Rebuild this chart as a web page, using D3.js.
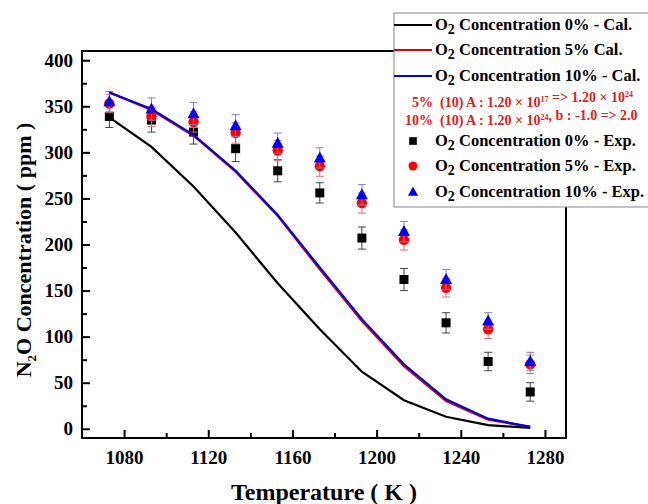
<!DOCTYPE html>
<html>
<head>
<meta charset="utf-8">
<script src="https://cdn.jsdelivr.net/npm/d3@7"></script>
<style>
  body { margin: 0; background: #fff; }
</style>
</head>
<body>
<script>
const w = 648;
const h = 504;
const FONT = "Liberation Serif";

// data
const temps = [1073, 1093, 1113, 1133, 1153, 1173, 1193, 1213, 1233, 1253, 1273];
const cal0 = [338, 306, 263, 213, 158, 108, 62, 31, 13, 4, 1];
const cal5 = [365, 346, 318, 279, 231, 173, 117, 68, 30, 10, 2];
const cal10 = [365, 347, 319, 280, 232, 175, 119, 70, 32, 11, 2];
const exp0 = [339, 335, 322, 304, 280, 256, 207, 162, 115, 73, 40];
const exp5 = [353, 339, 333, 321, 302, 285, 245, 205, 153, 108, 70];
const exp10 = [355, 347, 342, 329, 310, 294, 254, 214, 162, 117, 73];
const err0 = [12, 13, 13, 14, 12, 11, 12, 12, 11, 10, 10];
const err5 = [10, 11, 11, 11, 11, 11, 11, 11, 10, 10, 10];
const err10 = [11, 12, 12, 12, 11, 11, 11, 11, 11, 9, 10];
const xTicks = [1080, 1120, 1160, 1200, 1240, 1280];
const xMinor = [1100, 1140, 1180, 1220, 1260];
const yTicks = [0, 50, 100, 150, 200, 250, 300, 350, 400];
const yMinor = [25, 75, 125, 175, 225, 275, 325, 375];

const svg = d3.select("body").append("svg").attr("width", w).attr("height", h)
  .attr("font-family", FONT).attr("font-weight", "bold");

const x = d3.scaleLinear().domain([1060, 1290]).range([82, 566]);
const y = d3.scaleLinear().domain([-10, 410]).range([438, 51]);

// axes (ticks point inwards)
const xAxis = svg.append("g").attr("transform", "translate(0,438)")
  .call(d3.axisBottom(x).tickValues(xTicks).tickSize(-8).tickPadding(13).tickFormat(d3.format("d")));
const xAxisMinor = svg.append("g").attr("transform", "translate(0,438)")
  .call(d3.axisBottom(x).tickValues(xMinor).tickSize(-5).tickFormat(""));
const yAxis = svg.append("g").attr("transform", "translate(82,0)")
  .call(d3.axisLeft(y).tickValues(yTicks).tickSize(-8).tickPadding(9));
const yAxisMinor = svg.append("g").attr("transform", "translate(82,0)")
  .call(d3.axisLeft(y).tickValues(yMinor).tickSize(-5).tickFormat(""));

[xAxis, xAxisMinor, yAxis, yAxisMinor].forEach(g => {
  g.attr("font-family", FONT).attr("font-size", 19);
  g.select(".domain").remove();
  g.selectAll("line").attr("stroke", "#000").attr("stroke-width", 2);
  g.selectAll("text").attr("fill", "#000").attr("font-weight", "bold");
});

// frame
svg.append("rect").attr("x", 82).attr("y", 51).attr("width", 484).attr("height", 387)
  .attr("fill", "none").attr("stroke", "#000").attr("stroke-width", 2);

// experimental points with error bars
const expSeries = [
  { vals: exp0, err: err0, color: "#000", bar: "#444", shape: "square" },
  { vals: exp5, err: err5, color: "#f00", bar: "#e07070", shape: "circle" },
  { vals: exp10, err: err10, color: "#00f", bar: "#8080c8", shape: "triangle" }
];

function marker(sel, shape, color) {
  if (shape === "square") {
    sel.append("rect").attr("x", -4.5).attr("y", -4.5).attr("width", 9).attr("height", 9).attr("fill", color);
  } else if (shape === "circle") {
    sel.append("circle").attr("r", 5.2).attr("fill", color);
  } else {
    sel.append("path").attr("d", "M0,-6.5L6,4.5L-6,4.5Z").attr("fill", color);
  }
}

expSeries.forEach(s => {
  const g = svg.append("g");
  temps.forEach((t, i) => {
    const cx = x(t);
    const top = y(s.vals[i] + s.err[i]);
    const bot = y(s.vals[i] - s.err[i]);
    g.append("path")
      .attr("d", `M${cx},${top}V${bot}M${cx - 4},${top}H${cx + 4}M${cx - 4},${bot}H${cx + 4}`)
      .attr("stroke", s.bar).attr("stroke-width", 1).attr("fill", "none");
  });
  temps.forEach((t, i) => {
    const m = g.append("g").attr("transform", `translate(${x(temps[i])},${y(s.vals[i])})`);
    marker(m, s.shape, s.color);
  });
});

// calculated curves
const line = d3.line().x((d, i) => x(temps[i])).y(d => y(d));
[[cal0, "#000"], [cal5, "#e00000"], [cal10, "#0000e0"]].forEach(([vals, c]) => {
  svg.append("path").datum(vals).attr("d", line)
    .attr("fill", "none").attr("stroke", c).attr("stroke-width", 2.2);
});

// axis titles
const yt = svg.append("text").attr("transform", "translate(31,250) rotate(-90)")
  .attr("text-anchor", "middle").attr("font-size", 22);
yt.append("tspan").text("N");
yt.append("tspan").attr("dy", 5).attr("font-size", 13).text("2");
yt.append("tspan").attr("dy", -5).text("O Concentration ( ppm )");

svg.append("text").attr("x", 324).attr("y", 500).attr("text-anchor", "middle")
  .attr("font-size", 24).text("Temperature ( K )");

// legend
const lg = svg.append("g");
lg.append("rect").attr("x", 394).attr("y", 13).attr("width", 270).attr("height", 194)
  .attr("fill", "#fff").attr("stroke", "#888").attr("stroke-width", 1);

function o2Label(yy, rest) {
  const t = lg.append("text").attr("x", 435).attr("y", yy).attr("font-size", 16.5);
  t.append("tspan").text("O");
  t.append("tspan").attr("dy", 4).attr("font-size", 14).text("2");
  t.append("tspan").attr("dy", -4).text(" " + rest);
}

const calRows = [
  ["#000", "Concentration 0% - Cal.", 30],
  ["#e00000", "Concentration 5% Cal.", 55],
  ["#0000e0", "Concentration 10% - Cal.", 81]
];
calRows.forEach(([c, label, yy]) => {
  lg.append("line").attr("x1", 394).attr("x2", 432).attr("y1", yy - 5).attr("y2", yy - 5)
    .attr("stroke", c).attr("stroke-width", 2);
  o2Label(yy, label);
});

function noteLine(xx, yy, parts) {
  const t = lg.append("text").attr("x", xx).attr("y", yy).attr("fill", "#e02020")
    .attr("font-size", 14).style("white-space", "pre");
  parts.forEach(p => {
    if (p.sup) {
      t.append("tspan").attr("dy", -5).attr("font-size", 8).text(p.sup);
      t.append("tspan").attr("dy", 5).text("");
    } else {
      t.append("tspan").text(p.t);
    }
  });
}
noteLine(412, 107, [{ t: "5%  (10) A : 1.20 \u00d7 10" }, { sup: "17" }, { t: " => 1.20 \u00d7 10" }, { sup: "24" }]);
noteLine(405, 125, [{ t: "10%  (10) A : 1.20 \u00d7 10" }, { sup: "24" }, { t: ", b : -1.0 => 2.0" }]);

const expRows = [
  ["square", "#000", "Concentration 0% - Exp.", 146],
  ["circle", "#f00", "Concentration 5% - Exp.", 171],
  ["triangle", "#00f", "Concentration 10% - Exp.", 197]
];
expRows.forEach(([shape, c, label, yy]) => {
  const m = lg.append("g").attr("transform", `translate(413,${yy - 5}) scale(0.85)`);
  marker(m, shape, c);
  o2Label(yy, label);
});
</script>
</body>
</html>
